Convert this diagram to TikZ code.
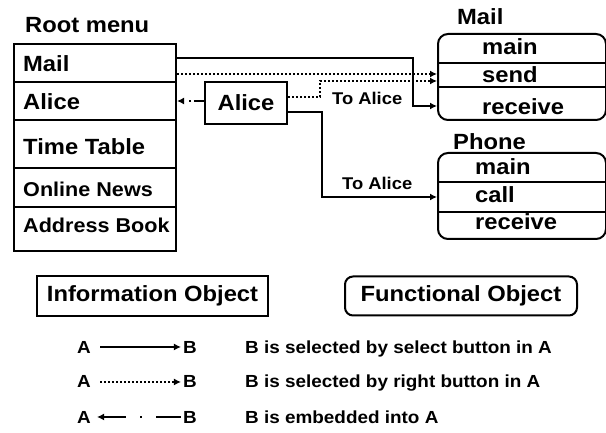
\documentclass[tikz,border=0pt]{standalone}
\usepackage{fontspec}
\setmainfont[FakeStretch=1.08]{Liberation Sans}
\usetikzlibrary{arrows.meta}
\begin{document}
\begin{tikzpicture}[x=1pt,y=-1pt,
  txt/.style={inner sep=0pt, font=\bfseries\fontsize{22}{24}\selectfont},
  smalltxt/.style={inner sep=0pt, font=\bfseries\fontsize{20}{22}\selectfont},
  lbltxt/.style={inner sep=0pt, font=\bfseries\fontsize{17}{19}\selectfont},
  legtxt/.style={inner sep=0pt, font=\bfseries\fontsize{17.5}{19}\selectfont},
  rowbox/.style={draw, line width=2pt, minimum width=162pt, anchor=north west, inner sep=0pt},
  fbox/.style={draw, line width=2pt, rounded corners=10pt, minimum width=168pt, inner sep=0pt, anchor=north west},
  conn/.style={line width=2pt},
  dotl/.style={line width=2pt, dash pattern=on 2pt off 2pt},
  dashdotA/.style={line width=2pt, dash pattern=on 2pt off 10pt on 40pt off 3pt, dash phase=42pt},
  dashdotB/.style={line width=2pt, dash pattern=on 25pt off 14pt on 2pt off 14pt on 40pt},
  arr/.style={-{Latex[length=7pt,width=7pt]}},
  ]
\useasboundingbox (0,0) rectangle (606,433);

% Root menu
\node[txt, anchor=base west] (title) at (25,33) {Root menu};
\node[rowbox, minimum height=38pt] (rMail) at (13,43) {};
\node[rowbox, minimum height=38pt] (rAlice) at (13,81) {};
\node[rowbox, minimum height=48pt] (rTime) at (13,119) {};
\node[rowbox, minimum height=39pt] (rNews) at (13,167) {};
\node[rowbox, minimum height=44pt] (rBook) at (13,206) {};
\node[txt, anchor=base west] (tMail) at (23,72) {Mail};
\node[txt, anchor=base west] (tAlice) at (23,110) {Alice};
\node[txt, anchor=base west] (tTime) at (23,155) {Time Table};
\node[smalltxt, anchor=base west] (tNews) at (23,197) {Online News};
\node[smalltxt, anchor=base west] (tBook) at (23,233) {Address Book};

% Alice object
\node[draw, line width=2pt, minimum width=82pt, minimum height=42pt, txt] (alice) at (246,103) {Alice};

% Mail functional object
\node[txt, anchor=base west] (mTitle) at (457,25) {Mail};
\node[fbox, minimum height=86pt] (mailbox) at (437,33) {};
\draw[conn] (mailbox.west |- 0,63) -- (mailbox.east |- 0,63);
\draw[conn] (mailbox.west |- 0,87) -- (mailbox.east |- 0,87);
\node[txt, anchor=base west] (mMain) at (482,55) {main};
\node[txt, anchor=base west] (mSend) at (482,83) {send};
\node[txt, anchor=base west] (mRecv) at (482,115) {receive};

% Phone functional object
\node[txt, anchor=base west] (pTitle) at (453,150) {Phone};
\node[fbox, minimum height=86pt] (phonebox) at (437,152) {};
\draw[conn] (phonebox.west |- 0,182) -- (phonebox.east |- 0,182);
\draw[conn] (phonebox.west |- 0,212) -- (phonebox.east |- 0,212);
\node[txt, anchor=base west] (pMain) at (475,175) {main};
\node[txt, anchor=base west] (pCall) at (475,203) {call};
\node[txt, anchor=base west] (pRecv) at (475,230) {receive};

% connectors
\draw[conn, arr] (rMail.east |- 0,58) -- (413,58) |- (mailbox.west |- 0,106);
\draw[dotl, arr] (rMail.east |- 0,74) -- (mailbox.west |- 0,74);
\draw[dotl, arr] (alice.east |- 0,97) -- (320,97) |- (mailbox.west |- 0,81);
\draw[conn, arr] (alice.east |- 0,112) -- (322,112) |- (phonebox.west |- 0,197);
\draw[dashdotA, arr] (alice.west |- 0,101) -- (rAlice.east |- 0,101);
\node[lbltxt, anchor=base west] (lab1) at (332,105) {To Alice};
\node[lbltxt, anchor=base west] (lab2) at (342,190) {To Alice};

% object kinds
\node[draw, line width=2.5pt, minimum width=231pt, minimum height=40pt, txt] (info) at (152.5,296) {Information Object};
\node[draw, line width=2pt, rounded corners=8pt, minimum width=232pt, minimum height=39pt, txt] (func) at (461,296) {Functional Object};

% legend
\node[legtxt, anchor=base] (a1) at (84,353) {A};
\node[legtxt, anchor=base] (b1) at (190,353) {B};
\node[legtxt, anchor=base] (a2) at (84,388) {A};
\node[legtxt, anchor=base] (b2) at (190,388) {B};
\node[legtxt, anchor=base] (a3) at (84,423) {A};
\node[legtxt, anchor=base] (b3) at (190,423) {B};
\draw[conn, arr, shorten <=9pt, shorten >=2pt] (a1) -- (b1);
\draw[dotl, arr, shorten <=9pt, shorten >=2pt] (a2) -- (b2);
\draw[dashdotB, arr, shorten <=2pt, shorten >=6pt] (b3) -- (a3);
\node[legtxt, anchor=base west] (d1) at (245,353) {B is selected by select button in A};
\node[legtxt, anchor=base west] (d2) at (245,388) {B is selected by right button in A};
\node[legtxt, anchor=base west] (d3) at (245,423) {B is embedded into A};
\end{tikzpicture}
\end{document}
